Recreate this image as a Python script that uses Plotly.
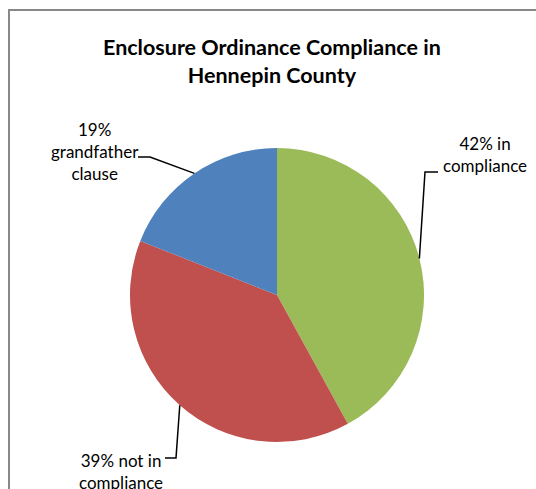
import math
import plotly.graph_objects as go

labels = ["in compliance", "not in compliance", "grandfather clause"]
values = [42, 39, 19]
colors = ["#9BBB59", "#C0504D", "#4F81BD"]
label_texts = ["42% in<br>compliance", "39% not in<br>compliance", "19%<br>grandfather<br>clause"]
title_text = "Enclosure Ordinance Compliance in<br>Hennepin County"

W, H = 536, 489
CX, CY, R = 277, 295, 147  # pie center / radius in window pixels

def px(x):
    return x / W

def py(y):
    return 1 - y / H

fig = go.Figure(go.Pie(
    labels=labels, values=values, sort=False, direction="clockwise", rotation=0,
    marker=dict(colors=colors, line=dict(width=0)),
    textinfo="none", hoverinfo="label+percent", showlegend=False,
    domain=dict(x=[px(CX - R), px(CX + R)], y=[py(CY + R), py(CY - R)]),
))

label_pos = [(485, 154), (121, 471), (95, 151)]
elbows = [[(425, 172), (438, 172)], [(176, 458), (165, 458)], [(150, 157), (138, 157)]]

total = sum(values)
cum = 0
shapes = []
annotations = []
for i, v in enumerate(values):
    mid = (cum + v / 2) / total
    cum += v
    ang = math.radians(90 - mid * 360)
    ex, ey = CX + R * math.cos(ang), CY - R * math.sin(ang)
    pts = [(ex, ey)] + elbows[i]
    path = "M " + " L ".join(f"{px(x):.5f},{py(y):.5f}" for x, y in pts)
    shapes.append(dict(type="path", xref="paper", yref="paper", path=path,
                       line=dict(color="black", width=1.5)))
    lx, ly = label_pos[i]
    annotations.append(dict(text=label_texts[i], x=px(lx), y=py(ly), xref="paper", yref="paper",
                            showarrow=False, xanchor="center", yanchor="middle", align="center",
                            font=dict(family="Lato", size=17, color="black")))

annotations.append(dict(text="<b>" + title_text + "</b>", x=px(272), y=py(61), xref="paper", yref="paper",
                        showarrow=False, xanchor="center", yanchor="middle", align="center",
                        font=dict(family="Lato", size=21.5, color="black")))

# chart-area border: only top and left edges are visible in the crop
border = [(9, H + 20), (9, 10), (W + 20, 10)]
shapes.append(dict(type="path", xref="paper", yref="paper",
                   path="M " + " L ".join(f"{px(x):.5f},{py(y):.5f}" for x, y in border),
                   line=dict(color="#888888", width=2), layer="below"))

fig.update_layout(width=W, height=H, margin=dict(l=0, r=0, t=0, b=0),
                  paper_bgcolor="white", plot_bgcolor="white",
                  shapes=shapes, annotations=annotations)
fig.write_html("out.html", config={"displayModeBar": False},
               post_script="document.body.style.margin='0';document.body.style.overflow='hidden';")
